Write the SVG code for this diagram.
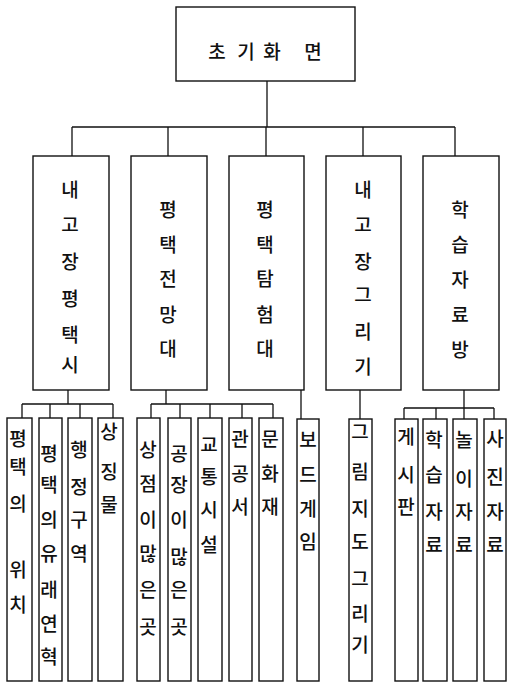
<svg xmlns="http://www.w3.org/2000/svg" width="507" height="685" viewBox="0 0 507 685">
<style>
rect{fill:#fff;stroke:#111;stroke-width:1.4}
.c path,.c line{fill:none;stroke:#111;stroke-width:1.3}
text{font-family:"Noto Sans CJK KR","Noto Sans",sans-serif;font-size:19px;font-weight:500;fill:#111;text-anchor:middle;dominant-baseline:central}
</style>
<rect x="0" y="0" width="507" height="685" style="stroke:none"/>
<g class="c" id="connectors">
<path d="M267 81V127M72 127H455M72 127V156M168 127V156M266 127V156M363 127V156M455 127V156"/>
<path d="M68 390V404M22 404H113M22 404V418M50 404V418M80 404V418M113 404V418"/>
<path d="M166 390V404M151 404H273M151 404V418M180 404V418M210 404V418M242 404V418M273 404V418"/>
<path d="M301 390V419M360 390V419"/>
<path d="M464 390V408M404 408H494M404 408V419M436 408V419M464 408V419M494 408V419"/>
</g>
<g id="root"><rect x="176" y="7" width="179" height="74"/><text x="217 231 246 259 272 292 313" y="50">초 기 화 면</text></g>
<g id="n1"><rect x="33" y="156" width="76" height="234"/><text x="70 70 70 70 70 70" y="188 223 260 297 333 363">내고장평택시</text></g>
<g id="n2"><rect x="131" y="156" width="76" height="234"/><text x="168 168 168 168 168" y="208 243 277 313 347">평택전망대</text></g>
<g id="n3"><rect x="229" y="156" width="75" height="234"/><text x="265 265 265 265 265" y="208 243 277 313 347">평택탐험대</text></g>
<g id="n4"><rect x="326" y="156" width="75" height="234"/><text x="363 363 363 363 363 363" y="188 223 260 293 330 365">내고장그리기</text></g>
<g id="n5"><rect x="423" y="156" width="76" height="234"/><text x="460 460 460 460 460" y="208 243 278 313 348">학습자료방</text></g>
<g id="l1"><rect x="7" y="418" width="25" height="263"/><text x="18 18 18 18 18 18" y="437 465 502 535 568 603">평택의 위치</text></g>
<g id="l2"><rect x="39" y="418" width="23" height="263"/><text x="49 49 49 49 49 49 49" y="452 483 518 552 588 622 655">평택의유래연혁</text></g>
<g id="l3"><rect x="68" y="418" width="24" height="263"/><text x="79 79 79 79" y="448 485 518 552">행정구역</text></g>
<g id="l4"><rect x="98" y="418" width="25" height="263"/><text x="109 109 109" y="430 470 503">상징물</text></g>
<g id="l5"><rect x="137" y="418" width="23" height="263"/><text x="148 148 148 148 148 148" y="448 482 518 552 588 625">상점이많은곳</text></g>
<g id="l6"><rect x="168" y="418" width="23" height="263"/><text x="179 179 179 179 179 179" y="452 483 518 555 588 625">공장이많은곳</text></g>
<g id="l7"><rect x="198" y="418" width="24" height="263"/><text x="209 209 209 209" y="443 475 508 543">교통시설</text></g>
<g id="l8"><rect x="229" y="418" width="23" height="263"/><text x="240 240 240" y="437 472 505">관공서</text></g>
<g id="l9"><rect x="259" y="418" width="24" height="263"/><text x="270 270 270" y="437 472 505">문화재</text></g>
<g id="l10"><rect x="297" y="419" width="22" height="262"/><text x="308 308 308 308" y="438 473 507 540">보드게임</text></g>
<g id="l11"><rect x="349" y="419" width="23" height="262"/><text x="360 360 360 360 360 360 360" y="430 470 507 540 577 612 643">그림지도그리기</text></g>
<g id="l12"><rect x="395" y="419" width="23" height="262"/><text x="406 406 406" y="435 473 505">게시판</text></g>
<g id="l13"><rect x="423" y="419" width="24" height="262"/><text x="434 434 434 434" y="438 473 510 543">학습자료</text></g>
<g id="l14"><rect x="453" y="419" width="24" height="262"/><text x="464 464 464 464" y="438 477 510 543">놀이자료</text></g>
<g id="l15"><rect x="484" y="419" width="22" height="262"/><text x="495 495 495 495" y="437 475 510 543">사진자료</text></g>
</svg>
